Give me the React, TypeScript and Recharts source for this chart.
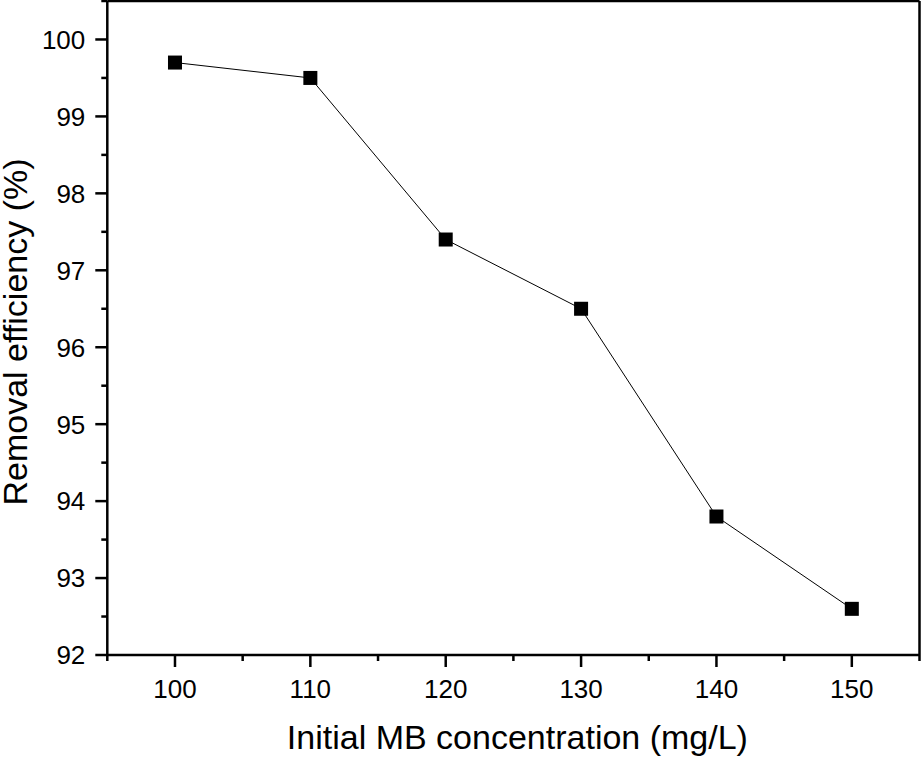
import React from "react";
import {
  LineChart,
  Line,
  XAxis,
  YAxis,
  ReferenceLine,
} from "recharts";

const concentrations = [100, 110, 120, 130, 140, 150];
const removalEfficiency = [99.7, 99.5, 97.4, 96.5, 93.8, 92.6];

const xTicks = [95, 100, 105, 110, 115, 120, 125, 130, 135, 140, 145, 150, 155];
const yTicks = [
  92, 92.5, 93, 93.5, 94, 94.5, 95, 95.5, 96, 96.5, 97, 97.5, 98, 98.5, 99,
  99.5, 100, 100.5,
];

const data = concentrations.map((c, i) => ({ x: c, y: removalEfficiency[i] }));

const FONT = "'Liberation Sans', Arial, Helvetica, sans-serif";
const AXIS_W = 2.5;

const isWhole = (v: number) => Math.abs(v - Math.round(v)) < 1e-6;

const XTick = ({ x, y, payload }: any) => {
  const major = payload.value % 10 === 0;
  return (
    <g>
      <line
        x1={x}
        x2={x}
        y1={y}
        y2={y + (major ? 12 : 6)}
        stroke="#000"
        strokeWidth={AXIS_W}
      />
      {major && (
        <text
          x={x}
          y={y + 43}
          textAnchor="middle"
          fontSize={26}
          fontFamily={FONT}
          fill="#000"
        >
          {payload.value}
        </text>
      )}
    </g>
  );
};

const YTick = ({ x, y, payload }: any) => {
  const major = isWhole(payload.value);
  return (
    <g>
      <line
        x1={x}
        x2={x - (major ? 12 : 6)}
        y1={y}
        y2={y}
        stroke="#000"
        strokeWidth={AXIS_W}
      />
      {major && (
        <text
          x={x - 22}
          y={y}
          dy="0.36em"
          textAnchor="end"
          fontSize={26}
          fontFamily={FONT}
          fill="#000"
        >
          {payload.value}
        </text>
      )}
    </g>
  );
};

const SquareDot = ({ cx, cy }: any) => {
  if (cx == null || cy == null) return null;
  return <rect x={cx - 7} y={cy - 7} width={14} height={14} fill="#000" />;
};

const XTitle = ({ viewBox }: any) => (
  <text
    x={viewBox.x + viewBox.width / 2 + 4}
    y={viewBox.y + 94}
    textAnchor="middle"
    fontSize={34}
    fontFamily={FONT}
    fill="#000"
  >
    Initial MB concentration (mg/L)
  </text>
);

const YTitle = ({ viewBox }: any) => {
  const cx = 26.5;
  const cy = viewBox.y + viewBox.height / 2 + 4;
  return (
    <text
      x={cx}
      y={cy}
      transform={`rotate(-90 ${cx} ${cy})`}
      textAnchor="middle"
      fontSize={34}
      fontFamily={FONT}
      fill="#000"
    >
      Removal efficiency (%)
    </text>
  );
};

export default function App() {
  return (
    <div style={{ position: "absolute", left: 0, top: 0, background: "#fff" }}>
      <LineChart
        width={922}
        height={758}
        data={data}
        margin={{ top: 1, right: 2.5, left: 0, bottom: 0 }}
      >
        <XAxis
          dataKey="x"
          type="number"
          domain={[95, 155]}
          ticks={xTicks}
          interval={0}
          allowDataOverflow
          height={103}
          tickSize={0}
          tickMargin={0}
          tickLine={false}
          tick={XTick}
          axisLine={{ stroke: "#000", strokeWidth: AXIS_W }}
          label={XTitle}
        />
        <YAxis
          dataKey="y"
          type="number"
          domain={[92, 100.5]}
          ticks={yTicks}
          interval={0}
          allowDataOverflow
          width={107.3}
          tickSize={0}
          tickMargin={0}
          tickLine={false}
          tick={YTick}
          axisLine={{ stroke: "#000", strokeWidth: AXIS_W }}
          label={YTitle}
        />
        <ReferenceLine x={155} stroke="#000" strokeWidth={AXIS_W} />
        <ReferenceLine y={100.5} stroke="#000" strokeWidth={AXIS_W} />
        <Line
          type="linear"
          dataKey="y"
          stroke="#000"
          strokeWidth={1}
          dot={<SquareDot />}
          activeDot={false}
          isAnimationActive={false}
        />
      </LineChart>
    </div>
  );
}
